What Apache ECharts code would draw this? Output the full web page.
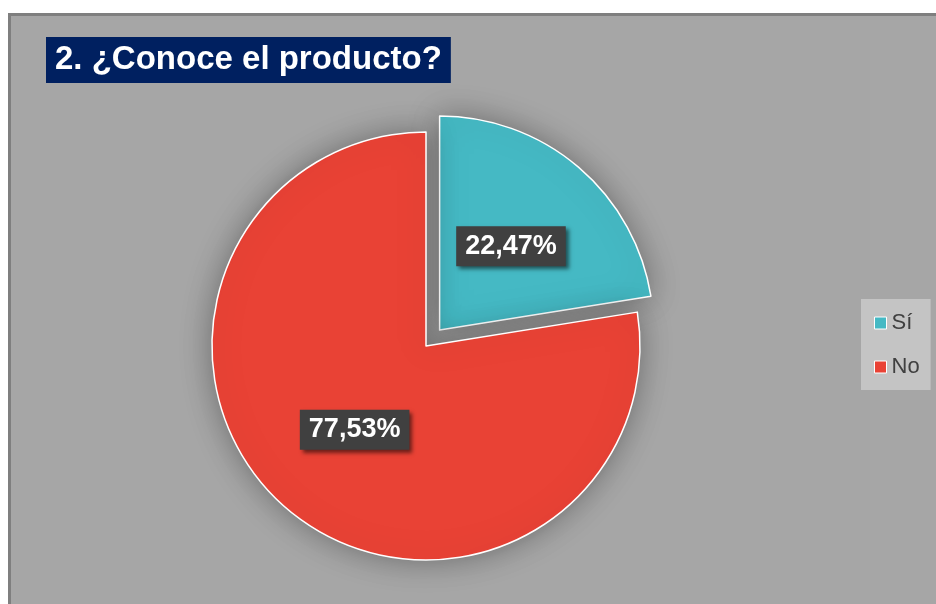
<!DOCTYPE html>
<html>
<head>
<meta charset="utf-8">
<script src="https://cdn.jsdelivr.net/npm/echarts@6/dist/echarts.min.js"></script>
<style>
  html, body { margin: 0; padding: 0; background: #ffffff; }
  #chart { width: 936px; height: 604px; }
</style>
</head>
<body>
<div id="chart"></div>
<script>
// Survey answers for question 2
const titleText = '2. ¿Conoce el producto?';
const categories = ['Sí', 'No'];
const percentages = [22.47, 77.53];
const sliceColors = ['#45b9c4', '#e94235'];

const chart = echarts.init(document.getElementById('chart'), null, { renderer: 'canvas' });

const pieData = categories.map((name, i) => ({
  name: name,
  value: percentages[i],
  selected: i === 0,
  itemStyle: { color: sliceColors[i] }
}));

const option = {
  backgroundColor: '#ffffff',
  animation: false,
  graphic: [
    {
      type: 'rect',
      z: -10,
      silent: true,
      shape: { x: 9.5, y: 14.5, width: 1000, height: 700 },
      style: { fill: '#a6a6a6', stroke: '#7f7f7f', lineWidth: 3 }
    }
  ],
  title: {
    text: titleText,
    left: 46,
    top: 37,
    padding: [6, 9, 6, 9],
    backgroundColor: '#002060',
    textStyle: {
      color: '#ffffff',
      fontFamily: 'Liberation Sans, Arial, sans-serif',
      fontWeight: 'bold',
      fontSize: 33,
      lineHeight: 34
    }
  },
  legend: {
    orient: 'vertical',
    left: 861,
    top: 299,
    padding: [13, 11, 12, 13],
    itemGap: 22,
    backgroundColor: '#c4c4c4',
    icon: 'rect',
    itemWidth: 12,
    itemHeight: 12,
    itemStyle: { borderColor: '#ffffff', borderWidth: 1 },
    textStyle: {
      color: '#404040',
      fontFamily: 'Liberation Sans, Arial, sans-serif',
      fontSize: 22,
      lineHeight: 22
    },
    data: categories
  },
  series: [
    {
      type: 'pie',
      center: [426, 346],
      radius: 214,
      startAngle: 90,
      clockwise: true,
      selectedMode: 'single',
      selectedOffset: 21,
      emphasis: { disabled: true },
      itemStyle: {
        borderColor: '#ffffff',
        borderWidth: 1.5,
        shadowColor: 'rgba(0,0,0,0.35)',
        shadowBlur: 30,
        shadowOffsetX: 0,
        shadowOffsetY: 0
      },
      label: {
        show: true,
        position: 'inside',
        formatter: p => p.value.toFixed(2).replace('.', ',') + '%',
        color: '#ffffff',
        fontFamily: 'Liberation Sans, Arial, sans-serif',
        fontWeight: 'bold',
        fontSize: 27,
        lineHeight: 30,
        backgroundColor: '#404040',
        padding: [5, 9, 5, 9],
        shadowColor: 'rgba(0,0,0,0.55)',
        shadowBlur: 4,
        shadowOffsetX: 3,
        shadowOffsetY: 3
      },
      labelLine: { show: false },
      data: pieData
    }
  ]
};

chart.setOption(option);
</script>
</body>
</html>
